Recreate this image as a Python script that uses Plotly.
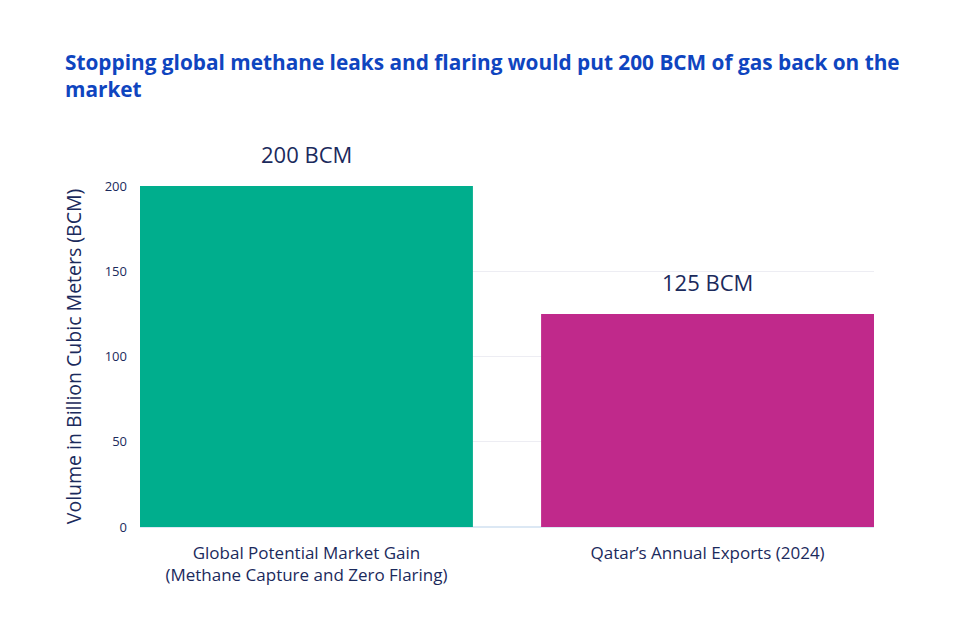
import plotly.graph_objects as go

categories = ["Global Potential Market Gain<br>(Methane Capture and Zero Flaring)",
              "Qatar’s Annual Exports (2024)"]
values = [200, 125]
labels = ["200 BCM", "125 BCM"]
colors = ["#00ae8d", "#c0298b"]
tick_vals = [0, 50, 100, 150, 200]

navy = "#1b2a5c"
FONT = "Open Sans"

fig = go.Figure()
fig.add_trace(go.Bar(
    x=categories, y=values,
    marker=dict(color=colors, line=dict(width=0)),
    hoverinfo="skip",
))

for c, v, t in zip(categories, values, labels):
    fig.add_annotation(x=c, y=v, text=t, showarrow=False, yanchor="middle",
                       yshift=32, font=dict(size=22, color=navy, family=FONT))

fig.update_layout(
    width=964, height=638,
    paper_bgcolor="white", plot_bgcolor="white",
    margin=dict(l=132, r=98, t=178, b=119),
    bargap=0.17,
    showlegend=False,
    title=dict(
        text="<b>Stopping global methane leaks and flaring would put 200 BCM of gas back on the<br>market</b>",
        x=57/964, xanchor="left", xref="container",
        y=1 - 62/638, yanchor="top", yref="container",
        font=dict(size=20.8, color="#0f45bf", family=FONT),
    ),
    font=dict(family=FONT, color=navy),
)
fig.update_xaxes(
    tickfont=dict(size=17, color=navy), showgrid=False, showline=False,
    ticks="", ticklabelstandoff=14, range=[-0.415, 1.415],
)
fig.update_yaxes(
    range=[0, 200], tickvals=tick_vals,
    tickfont=dict(size=13, color=navy),
    showgrid=True, gridcolor="#ededf3", gridwidth=1,
    zeroline=True, zerolinecolor="#dce8f4", zerolinewidth=2,
    showline=False, ticks="", ticklabelstandoff=12,
    title=dict(text="Volume in Billion Cubic Meters (BCM)", font=dict(size=19.5, color=navy), standoff=17),
)

fig.write_html("out.html")
